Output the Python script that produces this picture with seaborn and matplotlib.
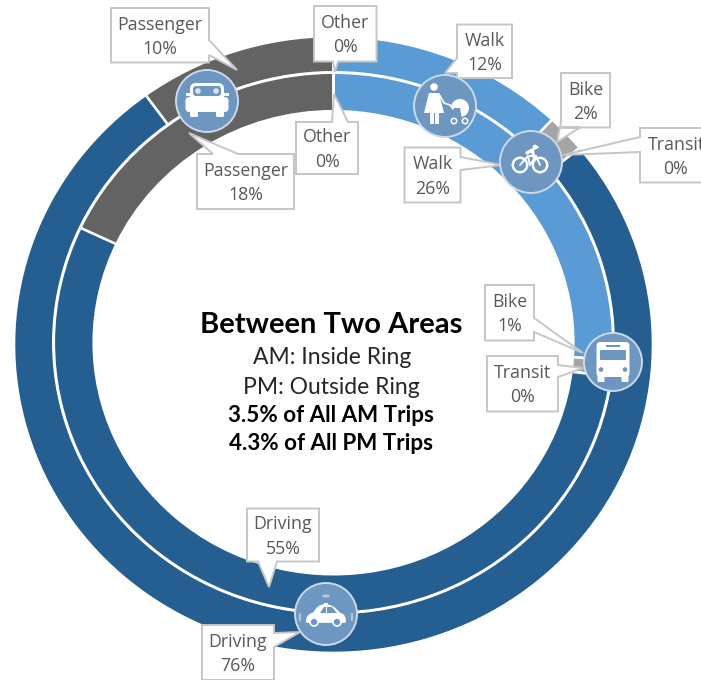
import matplotlib
matplotlib.use("Agg")
import matplotlib.pyplot as plt
from matplotlib.patches import Circle, Polygon, FancyBboxPatch, Rectangle, Ellipse, Wedge, PathPatch
from matplotlib.path import Path
import seaborn as sns

# ---------- data ----------
modes = ["Walk", "Bike", "Transit", "Driving", "Passenger", "Other"]
pm_share = [12, 2, 0, 76, 10, 0]     # outside ring
am_share = [26, 1, 0, 55, 18, 0]     # inside ring
title_lines = ["Between Two Areas", "AM: Inside Ring", "PM: Outside Ring",
               "3.5% of All AM Trips", "4.3% of All PM Trips"]

# ---------- style ----------
sns.set_theme(style="white")
plt.rcParams["font.family"] = ["Open Sans", "DejaVu Sans"]
palette = sns.color_palette(["#5B9BD5", "#A5A5A5", "#255E91", "#255E91", "#636363", "#636363"])
W, H = 701, 680
CX, CY, RX, RY = 333.5, 344.5, 318.5, 307.5
INNER_SHIFT = 0.0058
TXT = "#595959"
EDGE = "#C6C6C6"
BADGE = "#6D97C0"
BADGE_EDGE = "#CBD9E8"
ICON = "white"

fig = plt.figure(figsize=(W / 100, H / 100), dpi=100)
ax = fig.add_axes([0, 0, 1, 1])
wp = dict(edgecolor="white", linewidth=1.8)
ax.pie(pm_share, colors=palette, radius=1.003, startangle=90, counterclock=False,
       wedgeprops=dict(width=0.16, **wp))
ax.add_patch(Ellipse((0, INNER_SHIFT), 2 * 0.8836, 2 * 0.8836, fc="white", ec="none", zorder=5))
ax.pie(am_share, colors=palette, radius=0.878, center=(0, INNER_SHIFT), startangle=90, counterclock=False,
       wedgeprops=dict(width=0.125, zorder=6, **wp))
ax.set_aspect("auto")
ax.set_xlim(-CX / RX, (W - CX) / RX)
ax.set_ylim(-(H - CY) / RY, CY / RY)
ax.axis("off")

# overlay in pixel space for callouts and icons
ov = fig.add_axes([0, 0, 1, 1], facecolor="none")
ov.set_xlim(0, W)
ov.set_ylim(H, 0)
ov.axis("off")

# ---------- callouts: ring values, box (x0,y0,x1,y1), polygon leader base a, tip, base b ----------
callouts = [
    (pm_share, 4, (111, 8, 209, 62.5), (209, 40), (237, 70), (209, 55)),
    (pm_share, 5, (314, 6, 376.5, 61.5), (333, 61.5), (335, 72), (338, 61.5)),
    (am_share, 4, (197, 154, 294, 209), (213, 154), (189, 133), (238, 154)),
    (am_share, 5, (296, 122, 358, 174), (332, 122), (334, 94), (348, 122)),
    (pm_share, 0, (457, 24.5, 512, 78), (457, 58), (445, 73), (457, 73)),
    (pm_share, 1, (561, 73, 610, 127.5), (561, 122), (557, 142), (580, 127.5)),
    (pm_share, 2, (640, 128, 712, 182.5), (640, 137), (563, 155), (640, 152)),
    (am_share, 0, (404.5, 147.5, 460.5, 202.5), (460.5, 157), (502, 165), (460.5, 170)),
    (am_share, 1, (485, 285, 534, 340.5), (534, 318), (583, 353), (534, 332)),
    (am_share, 2, (487, 356, 558, 411.5), (558, 365), (583, 368), (558, 377)),
    (am_share, 3, (247, 508.5, 319, 561.5), (258, 561.5), (269, 587), (277, 561.5)),
    (pm_share, 3, (202, 625, 274, 680), (274, 633), (300, 632), (274, 647)),
]
for ring, idx, (x0, y0, x1, y1), a, tip, b in callouts:
    def side(p):
        if abs(p[1] - y0) < .01: return 0
        if abs(p[0] - x1) < .01: return 1
        if abs(p[1] - y1) < .01: return 2
        return 3
    s = side(a)
    if s == 0:   pts = [(x0, y0), a, tip, b, (x1, y0), (x1, y1), (x0, y1)]
    elif s == 1: pts = [(x0, y0), (x1, y0), a, tip, b, (x1, y1), (x0, y1)]
    elif s == 2: pts = [(x0, y0), (x1, y0), (x1, y1), b, tip, a, (x0, y1)]
    else:        pts = [(x0, y0), (x1, y0), (x1, y1), (x0, y1), b, tip, a]
    ov.add_patch(Polygon(pts, closed=True, fc="white", ec=EDGE, lw=1.4, zorder=3, joinstyle="miter"))
    ov.text((x0 + x1) / 2, (y0 + y1) / 2 + 1.5, f"{modes[idx]}\n{ring[idx]}%", ha="center", va="center",
            fontsize=12.8, color=TXT, linespacing=1.45, zorder=4)

# ---------- badges ----------
badges = {"car": (207, 101, 31), "walk": (445, 106, 31), "bike": (531, 162, 31),
          "bus": (613, 362, 29), "auto": (326, 614, 31)}
for cx, cy, r in badges.values():
    ov.add_patch(Circle((cx, cy), r, fc=BADGE, ec=BADGE_EDGE, lw=1.4, zorder=5))

def rrect(x0, y0, x1, y1, rad, fc=ICON, z=6):
    ov.add_patch(FancyBboxPatch((x0 + rad, y0 + rad), x1 - x0 - 2 * rad, y1 - y0 - 2 * rad,
                                boxstyle=f"round,pad={rad},rounding_size={rad}", fc=fc, ec="none", zorder=z))

# passenger car (front view)
cx, cy, _ = badges["car"]
rrect(cx - 17, cy - 18, cx + 17, cy + 4, 6)
rrect(cx - 21.5, cy - 4, cx + 21.5, cy + 11, 4)
rrect(cx - 17, cy + 9, cx - 9, cy + 16, 1.5)
rrect(cx + 9, cy + 9, cx + 17, cy + 16, 1.5)
rrect(cx - 14, cy - 15, cx + 14, cy - 5, 3, fc=BADGE, z=7)
for dx in (-9, 9):
    ov.add_patch(Circle((cx + dx, cy - 10), 2.8, fc=ICON, ec="none", zorder=8, alpha=.75))
ov.add_patch(Rectangle((cx - 21.5, cy - 8), 5, 3, fc=ICON, ec="none", zorder=6))
ov.add_patch(Rectangle((cx + 16.5, cy - 8), 5, 3, fc=ICON, ec="none", zorder=6))

# woman with stroller
cx, cy, _ = badges["walk"]
ov.add_patch(Circle((cx - 11, cy - 19), 3.8, fc=ICON, ec="none", zorder=6))
ov.add_patch(Polygon([(cx - 16, cy - 13), (cx - 6, cy - 13), (cx - 1, cy + 7), (cx - 21, cy + 7)],
                     fc=ICON, ec="none", zorder=6))
ov.add_patch(Rectangle((cx - 15, cy + 6), 3.5, 12, fc=ICON, ec="none", zorder=6))
ov.add_patch(Rectangle((cx - 10, cy + 6), 3.5, 12, fc=ICON, ec="none", zorder=6))
ov.plot([cx - 6, cx - 1, cx + 5], [cy - 12, cy - 3, cy - 1], color=ICON, lw=1.2, zorder=6)
ov.add_patch(Wedge((cx + 15, cy + 2), 9, 180, 80, fc=ICON, ec="none", zorder=6))
ov.plot([cx + 5, cx + 8], [cy - 1, cy + 3], color=ICON, lw=1.2, zorder=6)
for dx in (9, 20):
    ov.add_patch(Circle((cx + dx, cy + 15), 2.7, fc="none", ec=ICON, lw=1.1, zorder=6))

# bicycle
cx, cy, _ = badges["bike"]
for dx in (-11, 9):
    ov.add_patch(Circle((cx + dx, cy + 3), 7.2, fc="none", ec=ICON, lw=1.8, zorder=6))
ov.plot([cx - 11, cx - 3, cx + 5, cx + 9], [cy + 3, cy - 6, cy - 6, cy + 3], color=ICON, lw=1.4, zorder=6)
ov.plot([cx - 3, cx - 1, cx + 5], [cy - 6, cy + 3, cy - 6], color=ICON, lw=1.4, zorder=6)
ov.plot([cx - 4, cx + 1, cx + 3], [cy - 9, cy - 12, cy - 5], color=ICON, lw=2.4, zorder=6)
ov.add_patch(Circle((cx + 4, cy - 15), 2.4, fc=ICON, ec="none", zorder=6))
ov.plot([cx + 1, cx + 7], [cy - 12, cy - 15], color=ICON, lw=1.4, zorder=6)

# bus
cx, cy, _ = badges["bus"]
rrect(cx - 16.5, cy - 20, cx + 16.5, cy + 15, 4)
rrect(cx - 13, cy - 12, cx + 13, cy - 2, 1, fc=BADGE, z=7)
ov.add_patch(Rectangle((cx - 7, cy - 17), 14, 2.4, fc=BADGE, ec="none", zorder=7))
for dx in (-12, 12):
    ov.add_patch(Circle((cx + dx, cy + 7.5), 2.3, fc=BADGE, ec="none", zorder=7))
    rrect(cx + dx - 3.5, cy + 14, cx + dx + 3.5, cy + 20, 1)

# self-driving car
cx, cy, _ = badges["auto"]
verts = [(cx - 19, cy + 8), (cx - 20, cy + 1), (cx - 12, cy - 1), (cx - 8, cy - 9), (cx - 1, cy - 9),
         (cx + 7, cy - 9), (cx + 13, cy - 1), (cx + 20, cy + 1), (cx + 19, cy + 8), (cx - 19, cy + 8)]
codes = [Path.MOVETO, Path.CURVE3, Path.CURVE3, Path.CURVE3, Path.CURVE3,
         Path.CURVE3, Path.CURVE3, Path.CURVE3, Path.CURVE3, Path.CLOSEPOLY]
ov.add_patch(PathPatch(Path(verts, codes), fc=ICON, ec=ICON, lw=1.2, joinstyle="round", zorder=6))
ov.add_patch(Polygon([(cx + 1, cy - 7), (cx + 6, cy - 7), (cx + 11, cy - 1), (cx + 1, cy - 1)], fc=BADGE, ec="none", zorder=7))
ov.add_patch(Polygon([(cx - 6, cy - 1), (cx - 2, cy - 7), (cx, cy - 7), (cx, cy - 1)], fc=BADGE, ec="none", zorder=7))
ov.add_patch(Rectangle((cx - 2, cy - 11), 4, 3, fc=ICON, ec="none", zorder=6))
ov.add_patch(Ellipse((cx, cy - 18), 8, 3, fc=ICON, ec="none", alpha=.5, zorder=6))
ov.add_patch(Ellipse((cx - 26, cy + 3), 2.5, 9, fc=ICON, ec="none", alpha=.45, zorder=6))
ov.add_patch(Ellipse((cx + 26, cy + 3), 2.5, 9, fc=ICON, ec="none", alpha=.45, zorder=6))
for dx in (-12, 11):
    ov.add_patch(Circle((cx + dx, cy + 8), 4, fc=BADGE, ec=ICON, lw=1.2, zorder=7))

# ---------- centre text ----------
centre_fonts = ["Lato", "DejaVu Sans"]
ov.text(331, 325, title_lines[0], ha="center", va="center", family=centre_fonts,
        fontsize=21, fontweight="bold", color="black", zorder=4)
ov.text(332, 358, title_lines[1], ha="center", va="center", family=centre_fonts, fontsize=16.5, color="#262626")
ov.text(331, 387, title_lines[2], ha="center", va="center", family=centre_fonts, fontsize=16.5, color="#262626")
ov.text(331, 416, title_lines[3], ha="center", va="center", family=centre_fonts, fontsize=16.1, fontweight="bold", color="black")
ov.text(331, 444, title_lines[4], ha="center", va="center", family=centre_fonts, fontsize=16.1, fontweight="bold", color="black")

fig.savefig("out.png", dpi=100, facecolor="white")
